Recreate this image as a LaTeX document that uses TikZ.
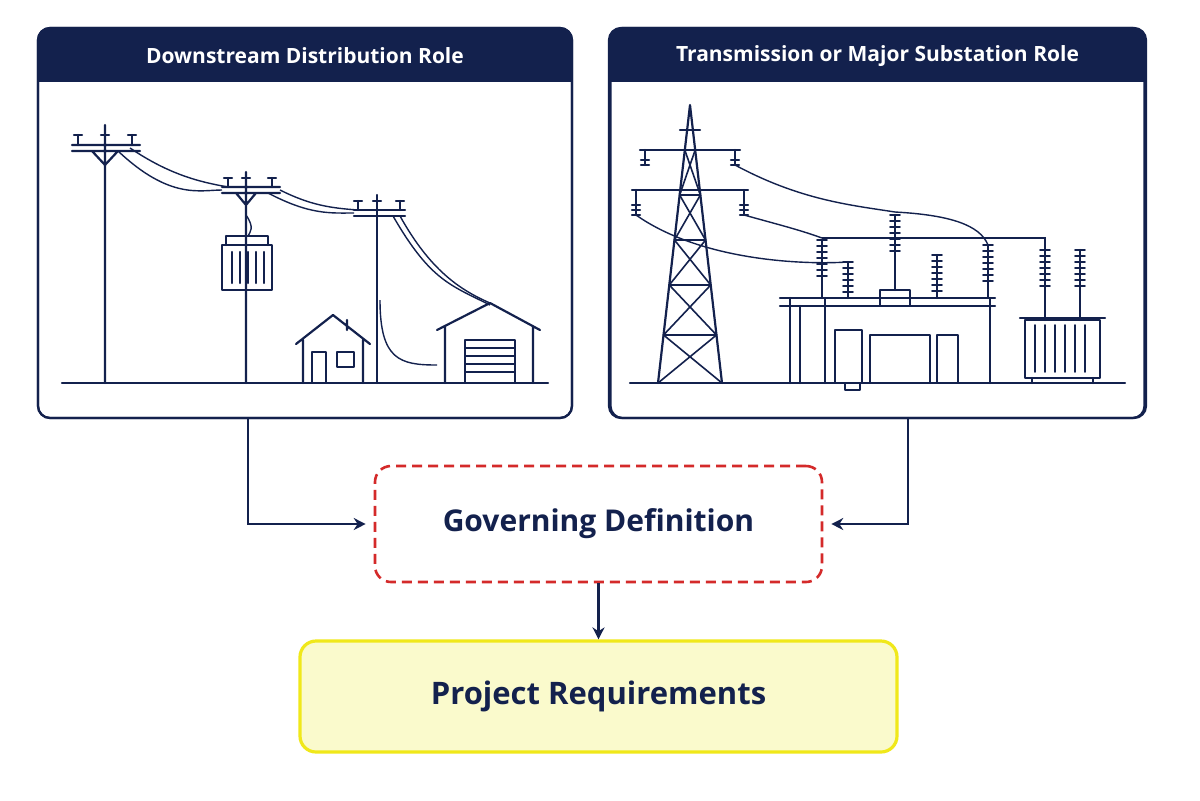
\documentclass[tikz,border=0pt]{standalone}
\usepackage{fontspec}
\setmainfont{Open Sans}
\usetikzlibrary{arrows.meta}
\definecolor{navy}{HTML}{13214D}
\definecolor{dred}{HTML}{D42A2A}
\definecolor{yel}{HTML}{F0E81A}
\definecolor{yfill}{HTML}{FAFACC}
\begin{document}
\begin{tikzpicture}[x=0.5pt,y=-0.5pt,
  panel/.style={draw=navy,line width=1.1pt,rounded corners=6pt,minimum width=267pt,minimum height=195pt,inner sep=0},
  hdr/.style={text=white,font=\bfseries\fontsize{10.5}{12}\selectfont},
  ill/.style={draw=navy,line width=1.1pt,line cap=round,line join=round},
  wire/.style={draw=navy,line width=0.7pt},
  arr/.style={draw=navy,line width=1.3pt,-{Stealth[length=6pt,width=6pt]}}]
\useasboundingbox (0,0) rectangle (1200,800);
\fill[white] (0,0) rectangle (1200,800);
% panels
\node[panel] (L) at (305,223) {};
\node[panel] (R) at (877.5,223) {};
\begin{scope}\clip[rounded corners=6pt] (38,28) rectangle (572,418);
\fill[navy] (38,28) rectangle (572,82);\end{scope}
\begin{scope}\clip[rounded corners=6pt] (609,28) rectangle (1146,418);
\fill[navy] (609,28) rectangle (1146,82);\end{scope}
\draw[navy,line width=1.1pt,rounded corners=6pt] (38,28) rectangle (572,418) (609,28) rectangle (1146,418);
\node[hdr] (LH) at (305,56) {Downstream Distribution Role};
\node[hdr] (RH) at (877.5,56) {Transmission or Major Substation Role};
% boxes
\node[draw=dred,dashed,line width=1.3pt,dash pattern=on 5pt off 3pt,rounded corners=8pt,minimum width=223.5pt,minimum height=58pt,font=\bfseries\fontsize{15}{18}\selectfont,text=navy] (G) at (598.5,524) {Governing Definition};
\node[draw=yel,fill=yfill,line width=1.6pt,rounded corners=8pt,minimum width=298.5pt,minimum height=55.5pt,font=\bfseries\fontsize{15.5}{18}\selectfont,text=navy] (P) at (598.5,696.5) {Project Requirements};
\draw[arr] ([xshift=-28.5pt]L.south) |- ([xshift=-4pt]G.west);
\draw[arr] ([xshift=15.25pt]R.south) |- ([xshift=4pt]G.east);
\draw[arr] (G.south) -- (P.north);
% ---- left illustration
\draw[ill] (62,383) -- (548,383);
\draw[ill] (105,125) -- (105,383) (72,145) -- (140,145) (72,151)--(140,151) (92,151)--(105,165)--(118,151);
\foreach \x in {78,105,132}{\draw[ill] (\x,145)--(\x,135) (\x-4,135)--(\x+4,135);}
\draw[ill] (246,172) -- (246,383) (222,187)--(280,187) (222,193)--(280,193) (236,193)--(246,205)--(256,193);
\foreach \x in {228,246,272}{\draw[ill] (\x,187)--(\x,178) (\x-4,178)--(\x+4,178);}
\draw[ill] (222,245) rectangle (272,290) (226,236)--(268,236)--(268,245) (226,236)--(226,245);
\foreach \x in {232,240,248,256,264}{\draw[ill] (\x,252)--(\x,283);}
\draw[ill] (377,195) -- (377,383) (354,210)--(405,210) (354,216)--(405,216);
\foreach \x in {358,377,400}{\draw[ill] (\x,210)--(\x,201) (\x-4,201)--(\x+4,201);}
% wires
\draw[wire] (118,151) .. controls (170,200) and (200,190) .. (222,190);
\draw[wire] (130,148) .. controls (170,175) and (200,182) .. (228,187);
\draw[wire] (268,193) .. controls (310,215) and (330,213) .. (354,213);
\draw[wire] (280,190) .. controls (310,205) and (330,208) .. (358,210);
\draw[wire] (246,215) .. controls (255,228) and (250,232) .. (248,236);
\draw[wire] (400,216) .. controls (430,270) and (460,290) .. (490,303);
\draw[wire] (393,216) .. controls (430,280) and (450,285) .. (490,305);
\draw[wire] (380,300) .. controls (380,360) and (400,365) .. (437,365);
% house
\draw[ill] (296,344)--(333,315)--(370,344) (303,340)--(303,383) (363,340)--(363,383) (347,320)--(347,330);
\draw[ill] (312,352) rectangle (326,383) (337,352) rectangle (354,367);
% garage
\draw[ill] (437,330)--(490,303)--(540,330) (445,326)--(445,383) (533,326)--(533,383);
\draw[ill] (465,340) rectangle (515,383);
\foreach \y in {348,356,364,372}{\draw[ill,line width=0.7pt] (465,\y)--(515,\y);}
% ---- right illustration
\draw[ill] (630,383) -- (1125,383);
\draw[ill] (690,105)--(658,383) (690,105)--(722,383);
\foreach \a/\b in {150/195,195/240,240/285,285/335,335/383}{
  \draw[ill,line width=0.8pt] ({690-32*(\a-105)/278},\a)--({690+32*(\b-105)/278},\b) ({690+32*(\a-105)/278},\a)--({690-32*(\b-105)/278},\b);
  \draw[ill,line width=0.8pt] ({690-32*(\a-105)/278},\a)--({690+32*(\a-105)/278},\a);}
\draw[ill] (640,150)--(740,150) (632,190)--(748,190) (680,130)--(700,130);
\foreach \x in {645,735}{\draw[ill] (\x,150)--(\x,165) (\x-4,160)--(\x+4,160) (\x-4,165)--(\x+4,165);}
\foreach \x in {636,744}{\draw[ill] (\x,190)--(\x,215) (\x-4,205)--(\x+4,205) (\x-4,210)--(\x+4,210) (\x-4,215)--(\x+4,215);}
% substation frame
\draw[ill] (780,298)--(995,298) (780,306)--(995,306);
\foreach \x in {790,825,990}{\draw[ill] (\x,298)--(\x,383);}
\draw[ill] (800,306)--(800,383);
\foreach \x/\t/\b in {822/240/298,848/262/298,895/215/290,937/255/298,988/245/298,1045/250/320,1080/250/320}{
  \draw[ill] (\x,\t)--(\x,\b);
  \foreach \y in {0,6,...,40}{\pgfmathsetmacro\yy{\t+\y}\ifdim\yy pt<\b pt\draw[ill,line width=0.8pt] (\x-5,\yy)--(\x+5,\yy);\fi}}
\draw[ill] (880,290) rectangle (910,306);
\draw[ill] (835,330) rectangle (862,383) (870,335) rectangle (930,383) (937,335) rectangle (958,383);
\draw[ill] (845,383) rectangle (860,390);
% wires
\draw[wire] (735,165) .. controls (800,200) and (850,205) .. (895,212);
\draw[wire] (744,215) .. controls (780,225) and (800,230) .. (822,238);
\draw[wire] (636,215) .. controls (700,260) and (800,265) .. (848,262);
\draw[wire] (822,238) -- (1045,238) -- (1045,250);
\draw[wire] (895,212) .. controls (950,215) and (980,225) .. (988,245);
% transformer
\draw[ill] (1025,320) rectangle (1100,378) (1020,318)--(1105,318);
\foreach \x in {1035,1045,...,1090}{\draw[ill,line width=0.8pt] (\x,325)--(\x,372);}
\draw[ill] (1032,378)--(1032,383) (1093,378)--(1093,383);
\end{tikzpicture}
\end{document}
